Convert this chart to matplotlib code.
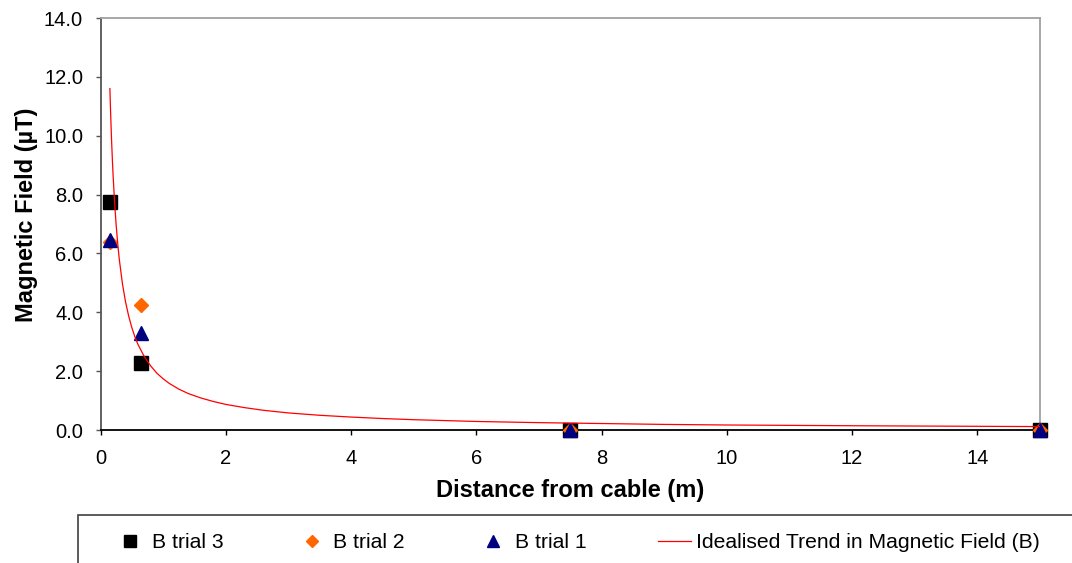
import matplotlib
matplotlib.use('Agg')
import matplotlib.pyplot as plt
from matplotlib.patches import Rectangle

plt.rcParams['font.family'] = ['Liberation Sans', 'DejaVu Sans']

# measured points
distance = [0.15, 0.65, 7.5, 15]
trial3 = [7.76, 2.29, 0.0, 0.0]
trial2 = [6.4, 4.25, 0.0, 0.0]
trial1 = [6.45, 3.3, 0.0, 0.0]

# idealised trend
trend_x = [0.15, 0.16, 0.175, 0.19, 0.2, 0.225, 0.25, 0.275, 0.3, 0.35, 0.4, 0.45,
           0.5, 0.55, 0.6, 0.7, 0.8, 0.9, 1.0, 1.1, 1.25, 1.4, 1.6, 1.8, 2.0,
           2.3, 2.6, 3.0, 3.5, 4.0, 4.5, 5.0, 6.0, 7.0, 8.0, 9.0, 10.0, 12.0, 15.0]
trend_y = [11.6, 10.88, 9.94, 9.16, 8.7, 7.73, 6.96, 6.33, 5.8, 4.97, 4.35, 3.87,
           3.48, 3.16, 2.9, 2.49, 2.18, 1.93, 1.74, 1.58, 1.39, 1.24, 1.09, 0.97, 0.87,
           0.76, 0.67, 0.58, 0.50, 0.44, 0.39, 0.35, 0.29, 0.25, 0.22, 0.19, 0.17, 0.145, 0.116]

x_ticks = [0, 2, 4, 6, 8, 10, 12, 14]
y_ticks = [0, 2, 4, 6, 8, 10, 12, 14]

fig = plt.figure(figsize=(10.72, 5.63), dpi=100)
ax = fig.add_axes([100.5 / 1072, 1 - 430 / 563, (1040 - 100.5) / 1072, (430 - 18) / 563])

h3, = ax.plot(distance, trial3, 's', color='black', markersize=10, linestyle='none',
              clip_on=False, zorder=3, label='B trial 3')
h2, = ax.plot(distance, trial2, 'D', color='#ff6600', markersize=7.5, linestyle='none',
              clip_on=False, zorder=4, label='B trial 2')
h1, = ax.plot(distance, trial1, '^', color='#000080', markersize=10.5, linestyle='none',
              clip_on=False, zorder=5, label='B trial 1')
ht, = ax.plot(trend_x, trend_y, '-', color='#ff0000', linewidth=0.9, zorder=6,
              label='Idealised Trend in Magnetic Field (B)')

ax.set_xlim(0, 15)
ax.set_ylim(0, 14)
ax.set_xticks(x_ticks)
ax.set_yticks(y_ticks)
ax.set_yticklabels(['%.1f' % v for v in y_ticks])
ax.tick_params(axis='both', labelsize=14.5, length=3.6, width=1, direction='out')
ax.tick_params(axis='x', pad=10)
ax.tick_params(axis='y', pad=9, color='#555555')

ax.spines['bottom'].set_color('black')
ax.spines['left'].set_color('#555555')
ax.spines['top'].set_color('#a0a0a0')
ax.spines['right'].set_color('#a0a0a0')
for s in ax.spines.values():
    s.set_linewidth(1.3)

ax.set_xlabel('Distance from cable (m)', fontsize=17, fontweight='bold')
ax.set_ylabel('Magnetic Field (\u00b5T)', fontsize=17, fontweight='bold')
ax.xaxis.set_label_coords(0.5, -(478.6 - 430) / 412)
ax.yaxis.set_label_coords((38 - 100.5) / 939.5, 0.5 + 9 / 412)

# legend box running off the bottom/right of the image
fig.patches.append(Rectangle((78 / 1072, -0.05), 1.05, 1 - 515 / 563 + 0.05,
                             transform=fig.transFigure, fill=False,
                             edgecolor='#404040', linewidth=1.2))

leg = fig.legend(handles=[h3, h2, h1, ht], loc='center left',
                 bbox_to_anchor=(114 / 1072, 1 - 543 / 563), ncol=4, frameon=False,
                 fontsize=15.2, handlelength=1.56, handletextpad=0.24,
                 columnspacing=3.4, borderpad=0, borderaxespad=0, markerscale=0.8)

fig.savefig('out.png', dpi=100)
